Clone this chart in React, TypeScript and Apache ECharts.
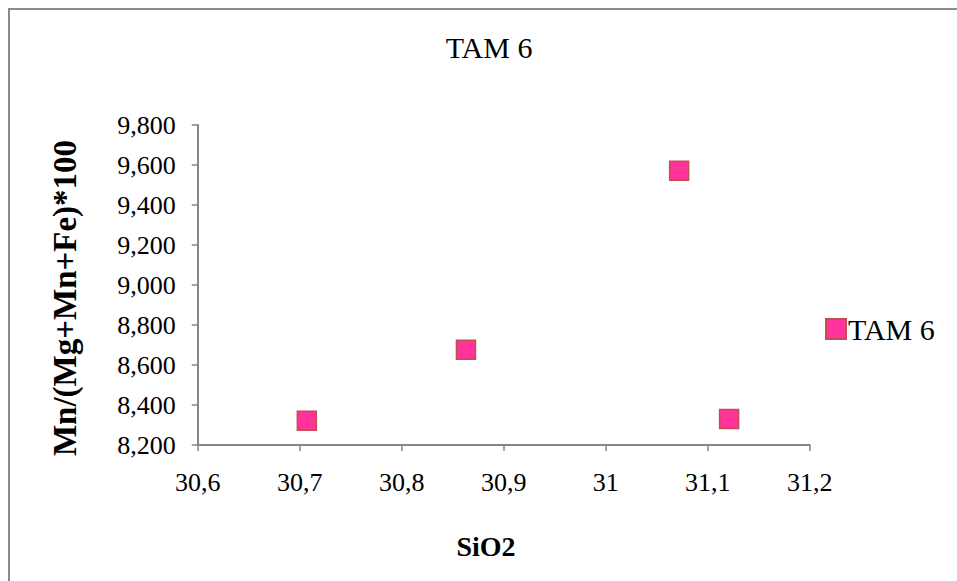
import React, { useEffect, useRef } from "react";
import * as echarts from "echarts";

const seriesName = "TAM 6";
const sio2Values = [30.707, 30.863, 31.072, 31.121];
const mnRatioValues = [8321, 8676, 9571, 8330];
const titleText = "TAM 6";
const xAxisTitle = "SiO2";
const yAxisTitle = "Mn/(Mg+Mn+Fe)*100";

const FONT = '"Liberation Serif", "Times New Roman", serif';

export default function App() {
  const ref = useRef<HTMLDivElement>(null);
  useEffect(() => {
    if (!ref.current) return;
    const chart = echarts.init(ref.current, undefined, { renderer: "svg" });
    const data = sio2Values.map((x, i) => [x, mnRatioValues[i]]);
    chart.setOption({
      animation: false,
      backgroundColor: "#ffffff",
      textStyle: { fontFamily: FONT },
      grid: { left: 197.7, right: 147.3, top: 125, bottom: 136, containLabel: false },
      xAxis: {
        type: "value",
        min: 30.6,
        max: 31.2,
        interval: 0.1,
        axisLine: { show: true, lineStyle: { color: "#868686", width: 2 } },
        axisTick: { show: true, length: 6, lineStyle: { color: "#868686", width: 1.5 } },
        splitLine: { show: false },
        axisLabel: {
          color: "#000",
          fontFamily: FONT,
          fontSize: 26,
          margin: 24,
          formatter: (v: number) => {
            const r = Math.round(v * 10) / 10;
            return Number.isInteger(r) ? String(r) : r.toFixed(1).replace(".", ",");
          },
        },
      },
      yAxis: {
        type: "value",
        min: 8200,
        max: 9800,
        interval: 200,
        axisLine: { show: true, lineStyle: { color: "#868686", width: 2 } },
        axisTick: { show: true, length: 6, lineStyle: { color: "#868686", width: 1.5 } },
        splitLine: { show: false },
        axisLabel: {
          color: "#000",
          fontFamily: FONT,
          fontSize: 26,
          margin: 22,
          formatter: (v: number) => {
            const s = String(Math.round(v));
            return s.replace(/\B(?=(\d{3})+(?!\d))/g, ",");
          },
        },
      },
      legend: {
        show: true,
        left: 825,
        top: 314,
        padding: 0,
        itemWidth: 20,
        itemHeight: 20,
        itemGap: 10,
        icon: "rect",
        itemStyle: { opacity: 1 },
        textStyle: { color: "#000", fontFamily: FONT, fontSize: 30, padding: [0, 0, 0, -3] },
        data: [seriesName],
      },
      series: [
        {
          name: seriesName,
          type: "scatter",
          symbol: "rect",
          symbolSize: 19,
          data,
          itemStyle: { color: "#FF3399", borderColor: "#C0504D", borderWidth: 1.5, opacity: 1 },
        },
      ],
      graphic: [
        {
          type: "rect",
          silent: true,
          shape: { x: 9, y: 9, width: 1000, height: 700 },
          style: { fill: "none", stroke: "#8a8a8a", lineWidth: 2 },
        },
        {
          type: "text",
          x: 489,
          y: 47,
          style: {
            text: titleText,
            fill: "#000",
            font: `30px ${FONT}`,
            textAlign: "center",
            textVerticalAlign: "middle",
          },
        },
        {
          type: "text",
          x: 486,
          y: 546,
          style: {
            text: xAxisTitle,
            fill: "#000",
            font: `bold 28px ${FONT}`,
            textAlign: "center",
            textVerticalAlign: "middle",
          },
        },
        {
          type: "text",
          x: 65,
          y: 298,
          rotation: Math.PI / 2,
          style: {
            text: yAxisTitle,
            fill: "#000",
            font: `bold 33px ${FONT}`,
            textAlign: "center",
            textVerticalAlign: "middle",
          },
        },
      ],
    });
    return () => chart.dispose();
  }, []);
  return (
    <div
      ref={ref}
      style={{ position: "absolute", left: 0, top: 0, width: 957, height: 581 }}
    />
  );
}
